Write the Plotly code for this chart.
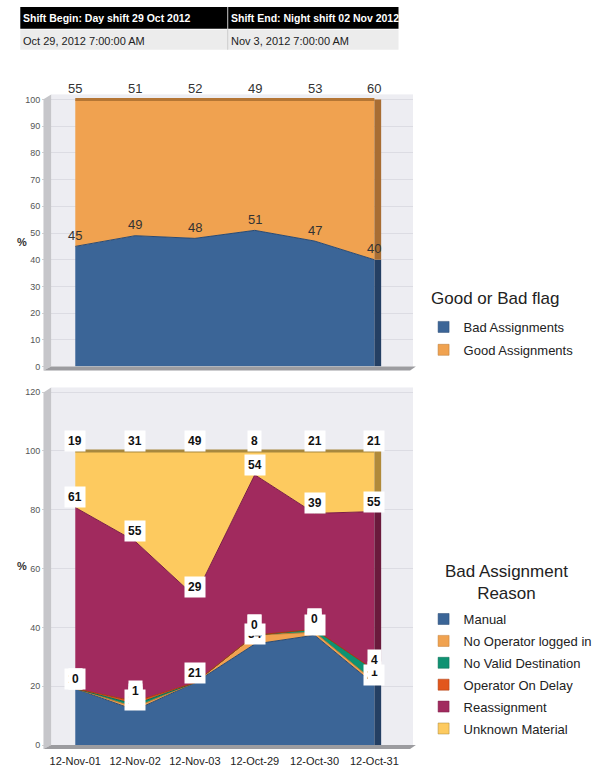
import plotly.graph_objects as go
import numpy as np

W, H = 597, 767

categories = ["12-Nov-01", "12-Nov-02", "12-Nov-03", "12-Oct-29", "12-Oct-30", "12-Oct-31"]

# Top chart: Good or Bad flag (percent)
bad_assign = [45, 49, 48, 51, 47, 40]
good_assign = [55, 51, 52, 49, 53, 60]

# Bottom chart: Bad Assignment Reason (percent)
manual = [19, 12, 21, 34, 37, 21]
no_operator = [0, 1, None, 3, 1, 1]
no_valid_dest = [None, 1, None, 0, 1, 4]
op_on_delay = [0, 1, None, None, 0, None]
reassignment = [61, 55, 29, 54, 39, 55]
unknown_material = [19, 31, 49, 8, 21, 21]

header_titles = ["Shift Begin: Day shift 29 Oct 2012", "Shift End: Night shift 02 Nov 2012"]
header_values = ["Oct 29, 2012 7:00:00 AM", "Nov 3, 2012 7:00:00 AM"]

legend_titles = ["Good or Bad flag", "Bad Assignment<br>Reason"]

FONT = "Arial, Liberation Sans, sans-serif"


def px(x):
    return x / W


def py(y):
    return 1 - y / H


top_series = [
    ("Bad Assignments", bad_assign, "#3b6597", "#2a4a72", "#243f63"),
    ("Good Assignments", good_assign, "#f0a250", "#b57634", "#a86d33"),
]
bot_series = [
    ("Manual", manual, "#3b6597", "#2a4a72", "#243f63"),
    ("No Operator logged in", no_operator, "#f0a250", "#c07a30", "#a86d33"),
    ("No Valid Destination", no_valid_dest, "#0e9272", "#0a6a52", "#0a6a52"),
    ("Operator On Delay", op_on_delay, "#e2561c", "#a83c10", "#a83c10"),
    ("Reassignment", reassignment, "#a12a5e", "#7a1e46", "#6a1a3c"),
    ("Unknown Material", unknown_material, "#fdca5f", "#a8883e", "#b08a3a"),
]

fig = go.Figure()

annotations = []
shapes = []

XDOM = [px(52), px(427)]
XR = [-0.403, 5.645]
side_w = 7 / 62.0


def add_stack(series, xa, ya, group, legend, boxed):
    vals = np.array([[0 if v is None else v for v in s[1]] for s in series], dtype=float)
    totals = vals.sum(axis=0)
    pct = vals / totals * 100
    cum = np.cumsum(pct, axis=0)
    n = len(series)
    for i, (name, data, col, lcol, side) in enumerate(series):
        top_line = (i == n - 1)
        fig.add_trace(go.Scatter(
            x=categories, y=[0 if v is None else v for v in data],
            name=name, stackgroup=group, groupnorm="percent",
            mode="lines", fillcolor=col,
            line=dict(color=lcol, width=3 if top_line else 1),
            xaxis=xa, yaxis=ya, showlegend=False, hoverinfo="skip",
        ))
        # 3D right side strip
        bottom = cum[i - 1][-1] if i > 0 else 0
        shapes.append(dict(type="rect", xref=xa, yref=ya, x0=len(categories) - 1,
                           x1=len(categories) - 1 + side_w, y0=bottom, y1=cum[i][-1],
                           fillcolor=side, line=dict(width=0), layer="above"))
    # legend entries as square swatches
    for i, (name, data, col, lcol, side) in enumerate(series):
        fig.add_trace(go.Scatter(
            x=[None], y=[None], name=name, mode="markers",
            marker=dict(symbol="square", size=11, color=col, line=dict(color=lcol, width=0.5)),
            xaxis=xa, yaxis=ya, legend=legend, legendgroup=f"{group}{i}", showlegend=True,
        ))
    for i, (name, data, col, lcol, side) in enumerate(series):
        for j, v in enumerate(data):
            if v is None:
                continue
            if boxed:
                annotations.append(dict(
                    x=categories[j], y=cum[i][j], xref=xa, yref=ya, text=f"<b>{v}</b>",
                    showarrow=False, yshift=10, bgcolor="white", borderpad=3,
                    font=dict(family=FONT, size=12, color="#111")))
            else:
                annotations.append(dict(
                    x=categories[j], y=cum[i][j], xref=xa, yref=ya, text=str(v),
                    showarrow=False, yshift=11,
                    font=dict(family=FONT, size=13, color="#333")))


add_stack(top_series, "x", "y", "top", "legend", False)
add_stack(bot_series, "x2", "y2", "bot", "legend2", True)

# header table
shapes += [
    dict(type="rect", xref="paper", yref="paper", x0=px(20), x1=px(412), y0=py(29), y1=py(7),
         fillcolor="#000000", line=dict(width=0)),
    dict(type="rect", xref="paper", yref="paper", x0=px(20), x1=px(412), y0=py(50), y1=py(30),
         fillcolor="#ececec", line=dict(width=0)),
    dict(type="line", xref="paper", yref="paper", x0=px(235), x1=px(235), y0=py(50), y1=py(7),
         line=dict(color="#cccccc", width=1)),
]
for k, (t, v) in enumerate(zip(header_titles, header_values)):
    x0 = [22, 237][k]
    annotations.append(dict(x=px(x0), y=py(18), xref="paper", yref="paper", xanchor="left",
                            yanchor="middle", showarrow=False, text=f"<b>{t}</b>", borderpad=0,
                            font=dict(family=FONT, size=10.5, color="white")))
    annotations.append(dict(x=px(x0), y=py(41), xref="paper", yref="paper", xanchor="left",
                            yanchor="middle", showarrow=False, text=v, borderpad=0,
                            font=dict(family=FONT, size=11, color="#222")))

# legend titles
annotations.append(dict(x=px(513), y=py(300), xref="paper", yref="paper", showarrow=False,
                        xanchor="center", yanchor="middle", text=legend_titles[0],
                        font=dict(family=FONT, size=17, color="#222")))
annotations.append(dict(x=px(524), y=py(586), xref="paper", yref="paper", showarrow=False,
                        xanchor="center", yanchor="middle", text=legend_titles[1],
                        font=dict(family=FONT, size=17, color="#222")))

# 3D walls & floors
for top, bottom in [(95, 369), (390, 750)]:
    shapes.append(dict(type="path", xref="paper", yref="paper",
                       path=f"M {px(44)} {py(bottom + 4)} L {px(44)} {py(top + 5)} L {px(52)} {py(top)} L {px(52)} {py(bottom)} Z",
                       fillcolor="#c6c6ca", line=dict(width=0)))
    shapes.append(dict(type="path", xref="paper", yref="paper",
                       path=f"M {px(44)} {py(bottom + 4)} L {px(52)} {py(bottom)} L {px(430)} {py(bottom)} L {px(424)} {py(bottom + 4)} Z",
                       fillcolor="#9c9ca0", line=dict(width=0)))

# % axis labels
for yy in [236, 578]:
    annotations.append(dict(x=px(14), y=py(yy), xref="paper", yref="paper", showarrow=False,
                            text="<b>%</b>", font=dict(family=FONT, size=11, color="#333")))

axis_common = dict(showline=False, zeroline=False)
fig.update_layout(
    width=W, height=H, margin=dict(l=0, r=0, t=0, b=0),
    paper_bgcolor="white", plot_bgcolor="#ededf2",
    font=dict(family=FONT, color="#333"),
    xaxis=dict(domain=XDOM, range=XR, anchor="y", showticklabels=False, showgrid=False,
               categoryorder="array", categoryarray=categories, **axis_common),
    yaxis=dict(domain=[py(369), py(95)], range=[0, 101.9], anchor="x", tickvals=list(range(0, 101, 10)),
               gridcolor="#dcdce3", ticks="outside", ticklen=8, tickcolor="#d0d0d0",
               tickfont=dict(size=9, color="#555"), **axis_common),
    xaxis2=dict(domain=XDOM, range=XR, anchor="y2", showgrid=False, ticks="",
                categoryorder="array", categoryarray=categories, ticklabelstandoff=8,
                tickfont=dict(size=11, color="#222"), **axis_common),
    yaxis2=dict(domain=[py(750), py(390)], range=[0, 121.6], anchor="x2", tickvals=list(range(0, 121, 20)),
                gridcolor="#dcdce3", ticks="outside", ticklen=8, tickcolor="#d0d0d0",
                tickfont=dict(size=9, color="#555"), **axis_common),
    legend=dict(x=px(438), y=py(314), xanchor="left", yanchor="top", bgcolor="rgba(0,0,0,0)",
                font=dict(size=13, color="#222"), traceorder="grouped", tracegroupgap=3),
    legend2=dict(x=px(438), y=py(608), xanchor="left", yanchor="top", bgcolor="rgba(0,0,0,0)",
                 font=dict(size=13, color="#222"), traceorder="grouped", tracegroupgap=2),
    annotations=annotations, shapes=shapes, showlegend=True,
)

fig.write_html("out.html")
